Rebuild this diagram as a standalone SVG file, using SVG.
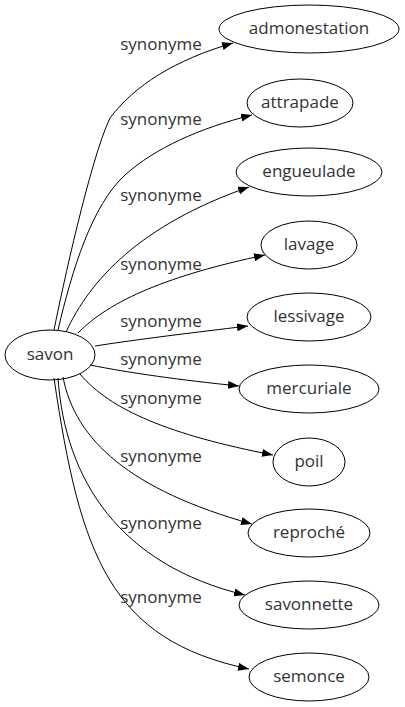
<svg xmlns="http://www.w3.org/2000/svg" width="405" height="707" viewBox="0 0 405 707">
<style>
.n ellipse{fill:none;stroke:#000;stroke-width:1}
text{font-family:"Open Sans","DejaVu Sans",sans-serif;font-size:17px;fill:#333;text-anchor:middle}
.e path{fill:none;stroke:#000;stroke-width:1;marker-end:url(#ah)}
</style>
<defs>
<marker id="ah" markerUnits="userSpaceOnUse" markerWidth="11" markerHeight="8" refX="11" refY="4" orient="auto">
<path d="M0,0 L11,4 L0,8 z" fill="#000"/>
</marker>
</defs>
<rect width="405" height="707" fill="#fff"/>
<g class="e" id="edges">
<path d="M54,330 C62,290 90,160 110,118 C135,85 175,60 233,43"/>
<path d="M58,330 C72,270 92,205 125,175 C155,148 200,128 252,115"/>
<path d="M66,332 C90,280 140,225 249,187"/>
<path d="M78,333 C110,300 170,275 265,255"/>
<path d="M95,346 C140,339 190,333 248,326"/>
<path d="M90,365 C130,373 180,380 239,386"/>
<path d="M80,374 C110,410 170,435 273,455"/>
<path d="M63,377 C75,440 130,490 252,524"/>
<path d="M58,378 C65,480 120,565 245,595"/>
<path d="M54,378 C80,555 110,640 249,669"/>
<text x="161" y="50">synonyme</text>
<text x="161" y="125">synonyme</text>
<text x="161" y="201">synonyme</text>
<text x="161" y="270">synonyme</text>
<text x="161" y="327">synonyme</text>
<text x="161" y="365">synonyme</text>
<text x="161" y="404">synonyme</text>
<text x="161" y="462">synonyme</text>
<text x="161" y="529">synonyme</text>
<text x="161" y="603">synonyme</text>
</g>
<g class="n" id="savon"><ellipse cx="50" cy="355" rx="45" ry="25"/><text x="50" y="360">savon</text></g>
<g class="n" id="admonestation"><ellipse cx="309" cy="29" rx="90" ry="24"/><text x="309" y="34">admonestation</text></g>
<g class="n" id="attrapade"><ellipse cx="300" cy="103" rx="53" ry="24"/><text x="300" y="108">attrapade</text></g>
<g class="n" id="engueulade"><ellipse cx="309" cy="172" rx="73" ry="24"/><text x="309" y="177">engueulade</text></g>
<g class="n" id="lavage"><ellipse cx="309" cy="245" rx="48" ry="24"/><text x="309" y="250">lavage</text></g>
<g class="n" id="lessivage"><ellipse cx="309" cy="317" rx="62" ry="24"/><text x="309" y="322">lessivage</text></g>
<g class="n" id="mercuriale"><ellipse cx="309" cy="389" rx="70" ry="24"/><text x="309" y="394">mercuriale</text></g>
<g class="n" id="poil"><ellipse cx="309" cy="462" rx="36" ry="24"/><text x="309" y="467">poil</text></g>
<g class="n" id="reproche"><ellipse cx="309" cy="533" rx="61" ry="24"/><text x="309" y="538">reproché</text></g>
<g class="n" id="savonnette"><ellipse cx="309" cy="605" rx="70" ry="24"/><text x="309" y="610">savonnette</text></g>
<g class="n" id="semonce"><ellipse cx="309" cy="677" rx="60" ry="24"/><text x="309" y="682">semonce</text></g>
</svg>
